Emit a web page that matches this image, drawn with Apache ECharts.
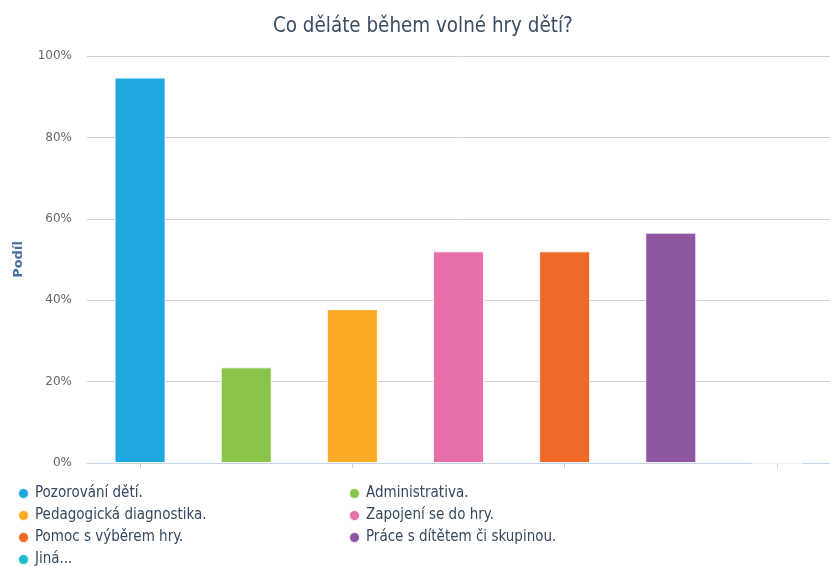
<!DOCTYPE html>
<html>
<head>
<meta charset="utf-8">
<script src="https://cdn.jsdelivr.net/npm/echarts@6/dist/echarts.min.js"></script>
<style>
  html, body { margin: 0; padding: 0; background: #fff; }
  #chart { width: 830px; height: 566px; }
</style>
</head>
<body>
<div id="chart"></div>
<script>
// Answers and their shares (percent of respondents)
const categories = [
  'Pozorování dětí.',
  'Administrativa.',
  'Pedagogická diagnostika.',
  'Zapojení se do hry.',
  'Pomoc s výběrem hry.',
  'Práce s dítětem či skupinou.',
  'Jiná...'
];
const shares = [94.7, 23.5, 37.8, 52, 52, 56.6, 0];
const colors = ['#1fa8df', '#8bc44a', '#fbaa25', '#e76faa', '#f06825', '#8f57a2', '#1ebccf'];
const yTicks = [0, 20, 40, 60, 80, 100];

// One series per answer so every bar gets its own legend entry
const series = categories.map((name, i) => ({
  name: name,
  type: 'bar',
  stack: 'one',
  barWidth: 51,
  data: categories.map((_, j) => (j === i ? shares[i] : null)),
  itemStyle: {
    color: colors[i],
    borderColor: 'rgba(255,255,255,0.85)',
    borderWidth: 1
  },
  emphasis: { disabled: true }
}));

const font = 'DejaVu Sans Condensed, DejaVu Sans, sans-serif';

const chart = echarts.init(document.getElementById('chart'), null, { renderer: 'canvas' });
chart.setOption({
  animation: false,
  color: colors,
  title: {
    text: 'Co děláte během volné hry dětí?',
    left: 268,
    top: 12,
    textStyle: { fontFamily: font, fontSize: 20.4, fontWeight: 'normal', color: '#3b4d63' }
  },
  // two-column legend: fixed text width makes the entries line up in columns
  legend: {
    data: categories,
    orient: 'horizontal',
    left: 17,
    top: 486,
    width: 700,
    padding: 0,
    icon: 'circle',
    itemWidth: 11,
    itemHeight: 11,
    itemGap: 7,
    selectedMode: false,
    textStyle: {
      fontFamily: font,
      fontSize: 15,
      color: '#34495e',
      width: 306,
      lineHeight: 12,
      padding: [0, 0, 0, 1]
    }
  },
  grid: { left: 87, right: 0, top: 56, bottom: 103, containLabel: false },
  xAxis: {
    type: 'category',
    data: categories,
    axisLine: { lineStyle: { color: '#c5d5e6', width: 1 } },
    axisTick: { show: true, alignWithLabel: true, length: 5, lineStyle: { color: '#c5d5e6' } },
    axisLabel: { show: false },
    splitLine: { show: false }
  },
  yAxis: {
    type: 'value',
    min: yTicks[0],
    max: yTicks[yTicks.length - 1],
    interval: 20,
    name: 'Podíl',
    nameLocation: 'middle',
    nameRotate: 90,
    nameGap: 62,
    nameTextStyle: { fontFamily: 'DejaVu Sans, sans-serif', fontSize: 13, fontWeight: 'bold', color: '#4a70a0' },
    axisLine: { show: false },
    axisTick: { show: false },
    axisLabel: {
      formatter: '{value}%',
      margin: 15,
      fontFamily: 'DejaVu Sans, sans-serif',
      fontSize: 12,
      color: '#666'
    },
    splitLine: { lineStyle: { color: '#d0d0d0', width: 1 } }
  },
  series: series
});
</script>
</body>
</html>
